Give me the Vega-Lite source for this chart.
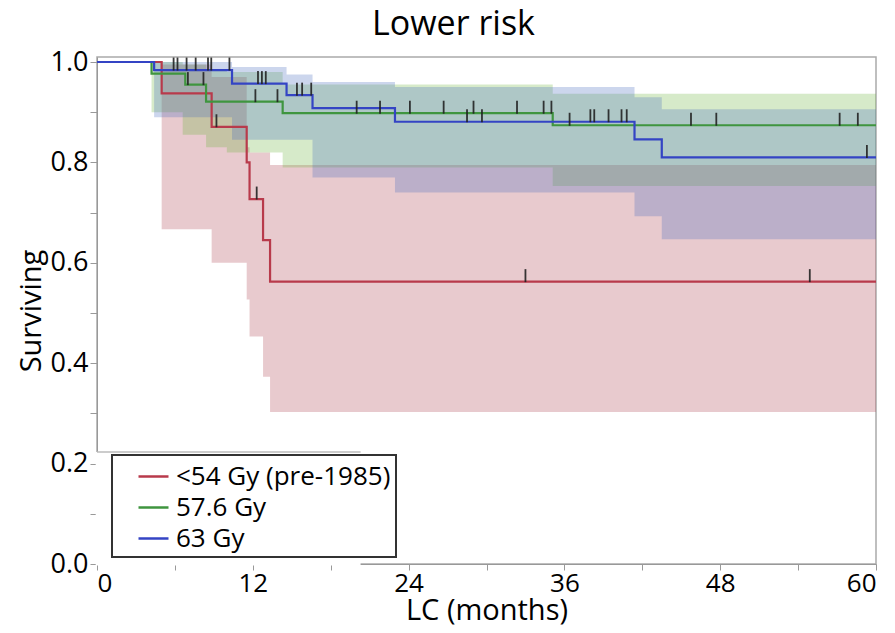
{
  "$schema": "https://vega.github.io/schema/vega-lite/v6.json",
  "width": 779,
  "height": 507,
  "autosize": {"type": "none"},
  "padding": {"left": 97, "top": 57, "right": 19, "bottom": 69},
  "background": "white",
  "config": {
    "font": "Open Sans",
    "view": {"stroke": "#aaaaaa", "strokeWidth": 1.5},
    "axis": {"grid": false, "domainColor": "#999999", "tickColor": "#999999", "labelColor": "black", "titleColor": "black", "titleFontWeight": "normal"}
  },
  "title": {"text": "Lower risk", "fontSize": 34, "fontWeight": "normal", "color": "black", "anchor": "middle", "dx": -33, "offset": 6},
  "datasets": {
    "curves": [
      {"group": "<54 Gy (pre-1985)", "month": 0, "surv": 1},
      {"group": "<54 Gy (pre-1985)", "month": 4.98, "surv": 0.9375},
      {"group": "<54 Gy (pre-1985)", "month": 8.83, "surv": 0.871},
      {"group": "<54 Gy (pre-1985)", "month": 11.53, "surv": 0.8},
      {"group": "<54 Gy (pre-1985)", "month": 11.75, "surv": 0.727},
      {"group": "<54 Gy (pre-1985)", "month": 12.79, "surv": 0.645},
      {"group": "<54 Gy (pre-1985)", "month": 13.33, "surv": 0.5625},
      {"group": "<54 Gy (pre-1985)", "month": 60, "surv": 0.5625},
      {"group": "57.6 Gy", "month": 0, "surv": 1},
      {"group": "57.6 Gy", "month": 4.2, "surv": 0.977},
      {"group": "57.6 Gy", "month": 6.8, "surv": 0.955},
      {"group": "57.6 Gy", "month": 8.4, "surv": 0.921},
      {"group": "57.6 Gy", "month": 14.3, "surv": 0.898},
      {"group": "57.6 Gy", "month": 35.1, "surv": 0.874},
      {"group": "57.6 Gy", "month": 60, "surv": 0.874},
      {"group": "63 Gy", "month": 0, "surv": 1},
      {"group": "63 Gy", "month": 4.4, "surv": 0.984},
      {"group": "63 Gy", "month": 10.4, "surv": 0.957},
      {"group": "63 Gy", "month": 14.6, "surv": 0.934},
      {"group": "63 Gy", "month": 16.6, "surv": 0.908},
      {"group": "63 Gy", "month": 22.95, "surv": 0.881},
      {"group": "63 Gy", "month": 41.4, "surv": 0.846},
      {"group": "63 Gy", "month": 43.5, "surv": 0.81},
      {"group": "63 Gy", "month": 60, "surv": 0.81}
    ],
    "bands": [
      {"group": "<54 Gy (pre-1985)", "month": 0, "lo": 1, "hi": 1},
      {"group": "<54 Gy (pre-1985)", "month": 4.98, "lo": 0.667, "hi": 0.995},
      {"group": "<54 Gy (pre-1985)", "month": 8.83, "lo": 0.6, "hi": 0.97},
      {"group": "<54 Gy (pre-1985)", "month": 11.53, "lo": 0.527, "hi": 0.83},
      {"group": "<54 Gy (pre-1985)", "month": 11.75, "lo": 0.453, "hi": 0.82},
      {"group": "<54 Gy (pre-1985)", "month": 12.79, "lo": 0.373, "hi": 0.82},
      {"group": "<54 Gy (pre-1985)", "month": 13.33, "lo": 0.303, "hi": 0.795},
      {"group": "<54 Gy (pre-1985)", "month": 60, "lo": 0.303, "hi": 0.795},
      {"group": "57.6 Gy", "month": 0, "lo": 1, "hi": 1},
      {"group": "57.6 Gy", "month": 4.2, "lo": 0.9, "hi": 1.0},
      {"group": "57.6 Gy", "month": 6.6, "lo": 0.855, "hi": 0.995},
      {"group": "57.6 Gy", "month": 8.4, "lo": 0.83, "hi": 0.985},
      {"group": "57.6 Gy", "month": 10.0, "lo": 0.82, "hi": 0.98},
      {"group": "57.6 Gy", "month": 14.3, "lo": 0.79, "hi": 0.955},
      {"group": "57.6 Gy", "month": 35.1, "lo": 0.753, "hi": 0.937},
      {"group": "57.6 Gy", "month": 60, "lo": 0.753, "hi": 0.937},
      {"group": "63 Gy", "month": 0, "lo": 1, "hi": 1},
      {"group": "63 Gy", "month": 4.4, "lo": 0.89, "hi": 1.0},
      {"group": "63 Gy", "month": 10.4, "lo": 0.845, "hi": 0.99},
      {"group": "63 Gy", "month": 14.6, "lo": 0.845, "hi": 0.975},
      {"group": "63 Gy", "month": 16.6, "lo": 0.77, "hi": 0.96},
      {"group": "63 Gy", "month": 22.95, "lo": 0.74, "hi": 0.95},
      {"group": "63 Gy", "month": 41.4, "lo": 0.693, "hi": 0.93},
      {"group": "63 Gy", "month": 43.5, "lo": 0.647, "hi": 0.906},
      {"group": "63 Gy", "month": 60, "lo": 0.647, "hi": 0.906}
    ],
    "censor": [
      {"group": "<54 Gy (pre-1985)", "month": 9.2, "surv": 0.871},
      {"group": "<54 Gy (pre-1985)", "month": 12.3, "surv": 0.727},
      {"group": "<54 Gy (pre-1985)", "month": 33.0, "surv": 0.5625},
      {"group": "<54 Gy (pre-1985)", "month": 54.9, "surv": 0.5625},
      {"group": "57.6 Gy", "month": 7.0, "surv": 0.955},
      {"group": "57.6 Gy", "month": 8.2, "surv": 0.955},
      {"group": "57.6 Gy", "month": 12.2, "surv": 0.921},
      {"group": "57.6 Gy", "month": 13.9, "surv": 0.921},
      {"group": "57.6 Gy", "month": 20.0, "surv": 0.898},
      {"group": "57.6 Gy", "month": 21.8, "surv": 0.898},
      {"group": "57.6 Gy", "month": 24.1, "surv": 0.898},
      {"group": "57.6 Gy", "month": 26.7, "surv": 0.898},
      {"group": "57.6 Gy", "month": 29.0, "surv": 0.898},
      {"group": "57.6 Gy", "month": 32.35, "surv": 0.898},
      {"group": "57.6 Gy", "month": 34.4, "surv": 0.898},
      {"group": "57.6 Gy", "month": 35.0, "surv": 0.898},
      {"group": "57.6 Gy", "month": 36.4, "surv": 0.874},
      {"group": "57.6 Gy", "month": 45.75, "surv": 0.874},
      {"group": "57.6 Gy", "month": 47.7, "surv": 0.874},
      {"group": "57.6 Gy", "month": 57.2, "surv": 0.874},
      {"group": "57.6 Gy", "month": 58.6, "surv": 0.874},
      {"group": "63 Gy", "month": 5.9, "surv": 0.984},
      {"group": "63 Gy", "month": 6.2, "surv": 0.984},
      {"group": "63 Gy", "month": 6.9, "surv": 0.984},
      {"group": "63 Gy", "month": 7.6, "surv": 0.984},
      {"group": "63 Gy", "month": 8.55, "surv": 0.984},
      {"group": "63 Gy", "month": 8.8, "surv": 0.984},
      {"group": "63 Gy", "month": 10.2, "surv": 0.984},
      {"group": "63 Gy", "month": 12.4, "surv": 0.957},
      {"group": "63 Gy", "month": 12.7, "surv": 0.957},
      {"group": "63 Gy", "month": 13.0, "surv": 0.957},
      {"group": "63 Gy", "month": 15.4, "surv": 0.934},
      {"group": "63 Gy", "month": 15.8, "surv": 0.934},
      {"group": "63 Gy", "month": 16.5, "surv": 0.934},
      {"group": "63 Gy", "month": 28.5, "surv": 0.881},
      {"group": "63 Gy", "month": 29.65, "surv": 0.881},
      {"group": "63 Gy", "month": 38.0, "surv": 0.881},
      {"group": "63 Gy", "month": 38.3, "surv": 0.881},
      {"group": "63 Gy", "month": 39.4, "surv": 0.881},
      {"group": "63 Gy", "month": 40.4, "surv": 0.881},
      {"group": "63 Gy", "month": 40.8, "surv": 0.881},
      {"group": "63 Gy", "month": 59.3, "surv": 0.81}
    ]
  },
  "layer": [
    {
      "data": {"name": "bands"},
      "mark": {"type": "area", "interpolate": "step-after", "fillOpacity": 0.28},
      "encoding": {
        "x": {"field": "month", "type": "quantitative", "scale": {"domain": [0, 60], "nice": false},
          "axis": {"values": [0, 6, 12, 18, 24, 30, 36, 42, 48, 54, 60], "labelExpr": "datum.value % 12 == 0 ? datum.label : ''", "tickSize": 6, "labelFontSize": 26, "labelPadding": 0, "title": "LC (months)", "titleFontSize": 29, "titlePadding": 0}},
        "y": {"field": "hi", "type": "quantitative", "scale": {"domain": [0, 1.01], "nice": false},
          "axis": {"values": [0, 0.1, 0.2, 0.3, 0.4, 0.5, 0.6, 0.7, 0.8, 0.9, 1.0], "labelExpr": "round(datum.value * 10) % 2 == 0 ? format(datum.value, '.1f') : ''", "tickSize": 7, "labelFontSize": 27, "labelPadding": 2, "title": "Surviving", "titleFontSize": 29, "titlePadding": 4}},
        "y2": {"field": "lo"},
        "fill": {"field": "group", "type": "nominal", "legend": null,
          "scale": {"domain": ["63 Gy", "57.6 Gy", "<54 Gy (pre-1985)"], "range": ["#476bbd", "#6cb23e", "#ac414e"]}},
        "detail": {"field": "group"}
      }
    },
    {
      "data": {"values": [{"k": 1}]},
      "mark": {"type": "rect", "color": "white"},
      "encoding": {
        "x": {"datum": -0.1},
        "x2": {"datum": 20.3},
        "y": {"datum": -0.003},
        "y2": {"datum": 0.223}
      }
    },
    {
      "data": {"values": [{"k": 1}]},
      "mark": {"type": "rule", "color": "#bbbbbb", "strokeWidth": 1.5},
      "encoding": {
        "x": {"datum": 0},
        "x2": {"datum": 20.3},
        "y": {"datum": 0.223}
      }
    },
    {
      "data": {"name": "curves"},
      "mark": {"type": "line", "interpolate": "step-after", "strokeWidth": 2.2},
      "encoding": {
        "x": {"field": "month", "type": "quantitative"},
        "y": {"field": "surv", "type": "quantitative"},
        "color": {"field": "group", "type": "nominal",
          "scale": {"domain": ["<54 Gy (pre-1985)", "57.6 Gy", "63 Gy"], "range": ["#b83a4b", "#3f953f", "#3444c4"]},
          "legend": {"orient": "none", "legendX": 15, "legendY": 398, "title": null, "direction": "vertical", "zindex": 2,
            "fillColor": "white", "strokeColor": "#333333", "padding": 5,
            "symbolType": "stroke", "symbolStrokeWidth": 2.5, "symbolSize": 900, "symbolOffset": 20,
            "labelFontSize": 26, "labelColor": "black", "labelOffset": 6, "rowPadding": 1, "labelLimit": 400,
            "encode": {"legend": {"update": {"strokeWidth": {"value": 2}}}}}}
      }
    },
    {
      "data": {"name": "censor"},
      "mark": {"type": "tick", "orient": "vertical", "color": "#222222", "thickness": 1.8, "size": 13, "yOffset": -6, "opacity": 0.9},
      "encoding": {
        "x": {"field": "month", "type": "quantitative"},
        "y": {"field": "surv", "type": "quantitative"}
      }
    }
  ]
}
